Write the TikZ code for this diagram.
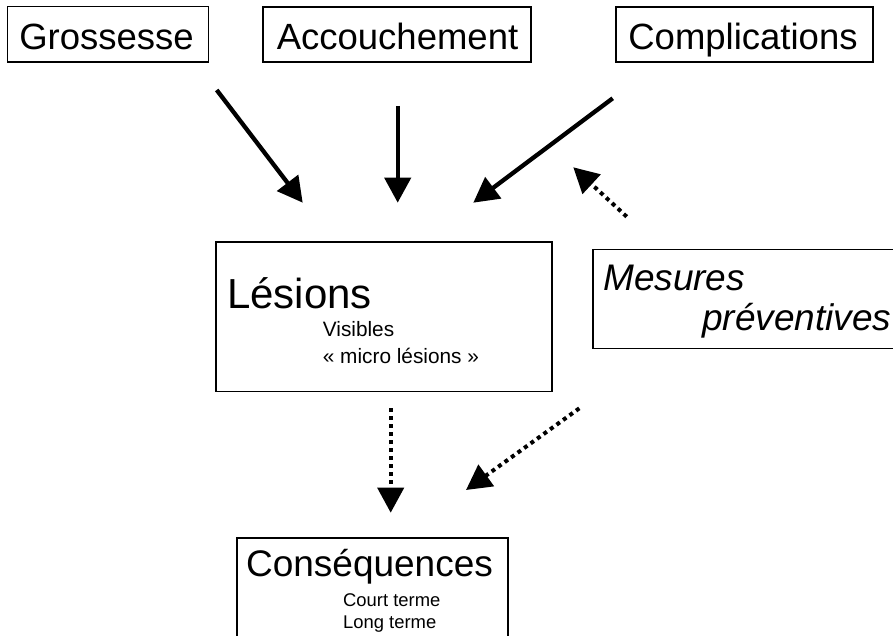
\documentclass[tikz,border=0pt]{standalone}
\usepackage{fontspec}
\setmainfont{Liberation Sans}
\usetikzlibrary{arrows.meta}
\tikzset{
  boxline/.style={draw=black, line width=1.1pt},
  topbox/.style={boxline, rectangle, inner sep=0pt},
  bigtxt/.style={inner sep=0pt, font=\fontsize{36.5}{40}\selectfont},
  smalltxt/.style={inner sep=0pt, font=\fontsize{20.8}{24}\selectfont},
  arr/.style={line width=4.3pt, -{Triangle[length=25pt,width=26pt]}},
  dotarr/.style={line width=4pt, dash pattern=on 4pt off 4pt, -{Triangle[length=25pt,width=26pt]}}
}
\begin{document}
\begin{tikzpicture}[x=1pt,y=-1pt]
\useasboundingbox (0,0) rectangle (893,636);
% top boxes
\node[topbox, minimum width=200.7pt, minimum height=55.3pt] (gbox) at (107.7,34.4) {};
\node[topbox, minimum width=268pt, minimum height=55pt] (abox) at (397,34.5) {};
\node[topbox, minimum width=257pt, minimum height=55pt] (cbox) at (744.5,34.5) {};
\node[bigtxt, anchor=base] (gtxt) at (106.5,49.3) {Grossesse};
\node[bigtxt, anchor=base] (atxt) at (397.5,49.3) {Accouchement};
\node[bigtxt, anchor=base] (ctxt) at (743,49.3) {Complications};
% Lesions box
\node[topbox, minimum width=336pt, minimum height=149.5pt] (lbox) at (384,316.7) {};
\node[inner sep=0pt, anchor=base west, font=\fontsize{42}{46}\selectfont] (ltxt) at (227,308) {Lésions};
\node[smalltxt, anchor=base west] (l1) at (322.7,336.7) {Visibles};
\node[smalltxt, anchor=base west] (l2) at (322.7,363.3) {« micro lésions »};
% Mesures box (clipped on the right)
\coordinate (m1) at (893,249.3);
\coordinate (m2) at (593,249.3);
\coordinate (m3) at (593,348.3);
\coordinate (m4) at (893,348.3);
\draw[boxline] (m1) -- (m2) -- (m3) -- (m4);
\node[bigtxt, anchor=base west, font=\fontsize{37}{40}\selectfont\itshape] (mtxt1) at (603,290) {Mesures};
\node[bigtxt, anchor=base west, font=\fontsize{37}{40}\selectfont\itshape] (mtxt2) at (702,330) {préventives};
% Consequences box (clipped at bottom)
\coordinate (k1) at (237,636);
\coordinate (k2) at (237,538);
\coordinate (k3) at (508,538);
\coordinate (k4) at (508,636);
\draw[boxline] (k1) -- (k2) -- (k3) -- (k4);
\node[inner sep=0pt, anchor=base, font=\fontsize{37}{40}\selectfont] (ktxt) at (369.5,576) {Conséquences};
\node[inner sep=0pt, anchor=base west, font=\fontsize{18.4}{22}\selectfont] (k5) at (343,606) {Court terme};
\node[inner sep=0pt, anchor=base west, font=\fontsize{18.4}{22}\selectfont] (k6) at (343,628) {Long terme};
% arrow end points
\coordinate (a1s) at (216.7,90);
\coordinate (a1e) at (302.7,202.7);
\coordinate (a2s) at (397.7,106);
\coordinate (a2e) at (397.7,202.7);
\coordinate (a3s) at (612.7,98.3);
\coordinate (a3e) at (473.3,202.7);
\coordinate (a4s) at (626.7,216.7);
\coordinate (a4e) at (573.3,167.3);
\coordinate (a5s) at (390.7,408);
\coordinate (a5e) at (390.7,512.7);
\coordinate (a6s) at (579.3,408.3);
\coordinate (a6e) at (466,490);
\draw[arr] (a1s) -- (a1e);
\draw[arr] (a2s) -- (a2e);
\draw[arr] (a3s) -- (a3e);
\draw[dotarr] (a4s) -- (a4e);
\draw[dotarr] (a5s) -- (a5e);
\draw[dotarr] (a6s) -- (a6e);
\end{tikzpicture}
\end{document}
